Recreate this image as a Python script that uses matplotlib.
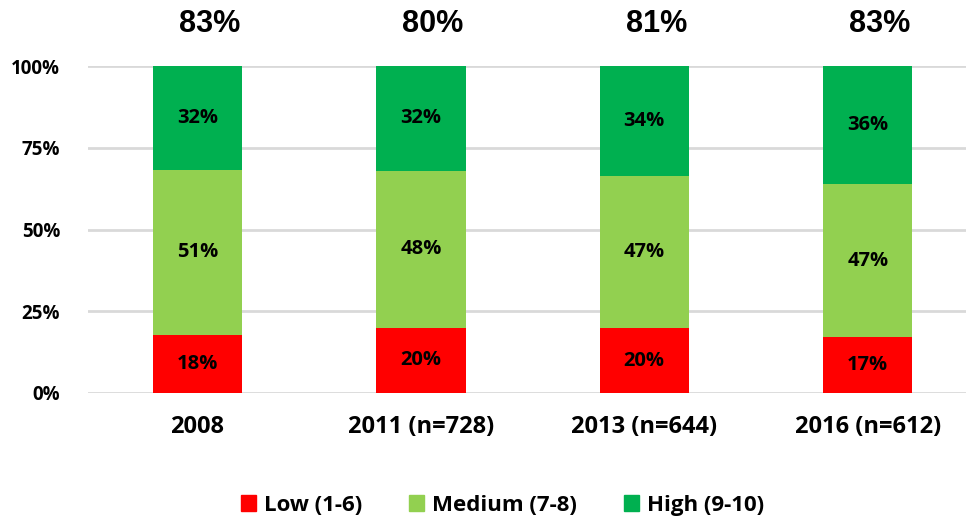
"""Stacked 100% bars: satisfaction groups by survey year."""

import matplotlib
matplotlib.use("Agg")
import matplotlib.pyplot as plt
import numpy as np
from matplotlib.patches import Patch

categories = ["2008", "2011 (n=728)", "2013 (n=644)", "2016 (n=612)"]
low = [18, 20, 20, 17]
medium = [51, 48, 47, 47]
high = [32, 32, 34, 36]
top_labels = ["83%", "80%", "81%", "83%"]
series_names = ["Low (1-6)", "Medium (7-8)", "High (9-10)"]
colors = ["#FF0000", "#92D050", "#00B050"]

ARIAL = ["Liberation Sans", "DejaVu Sans"]
CALIBRI = ["Open Sans", "Lato", "DejaVu Sans"]

vals = np.array([low, medium, high], dtype=float)
shares = vals / vals.sum(axis=0) * 100

fig = plt.figure(figsize=(9.66, 5.21), dpi=100)
ax = fig.add_axes([0.091, 0.2457, 0.909, 0.6276])

x = np.arange(len(categories))
bottom = np.zeros(len(categories))
for i, (name, col) in enumerate(zip(series_names, colors)):
    bars = ax.bar(x, shares[i], 0.4, bottom=bottom, color=col, label=name, zorder=3)
    for j, b in enumerate(bars):
        ax.text(b.get_x() + b.get_width() / 2, bottom[j] + shares[i][j] / 2,
                f"{vals[i][j]:.0f}%", ha="center", va="center",
                fontsize=14.5, fontweight="bold", family=CALIBRI, zorder=4)
    bottom += shares[i]

# totals above the bars sit a bit right of centre in the original
for j, t in enumerate(top_labels):
    ax.text(x[j] + 0.055, 113, t, ha="center", va="center", fontsize=22,
            fontweight="bold", family=ARIAL, clip_on=False)

ax.set_xlim(-0.49, 3.44)
ax.set_ylim(0, 100)
ax.set_yticks([0, 25, 50, 75, 100])
ax.set_yticklabels(["0%", "25%", "50%", "75%", "100%"], fontsize=13.5,
                   fontweight="bold", family=CALIBRI)
ax.set_xticks(x)
ax.set_xticklabels(categories, fontsize=17, fontweight="bold", family=CALIBRI)
ax.tick_params(axis="both", length=0)
ax.tick_params(axis="x", pad=16)
ax.tick_params(axis="y", pad=20)
ax.grid(axis="y", color="#D9D9D9", linewidth=2, zorder=0)
for s in ax.spines.values():
    s.set_visible(False)

handles = [Patch(color=c) for c in colors]
fig.legend(handles, series_names, loc="center", bbox_to_anchor=(0.52, 0.03),
           ncol=3, frameon=False, handlelength=0.7, handleheight=0.7,
           handletextpad=0.35, columnspacing=2.1,
           prop={"family": CALIBRI, "weight": "bold", "size": 16})

fig.savefig("out.png", dpi=100)
